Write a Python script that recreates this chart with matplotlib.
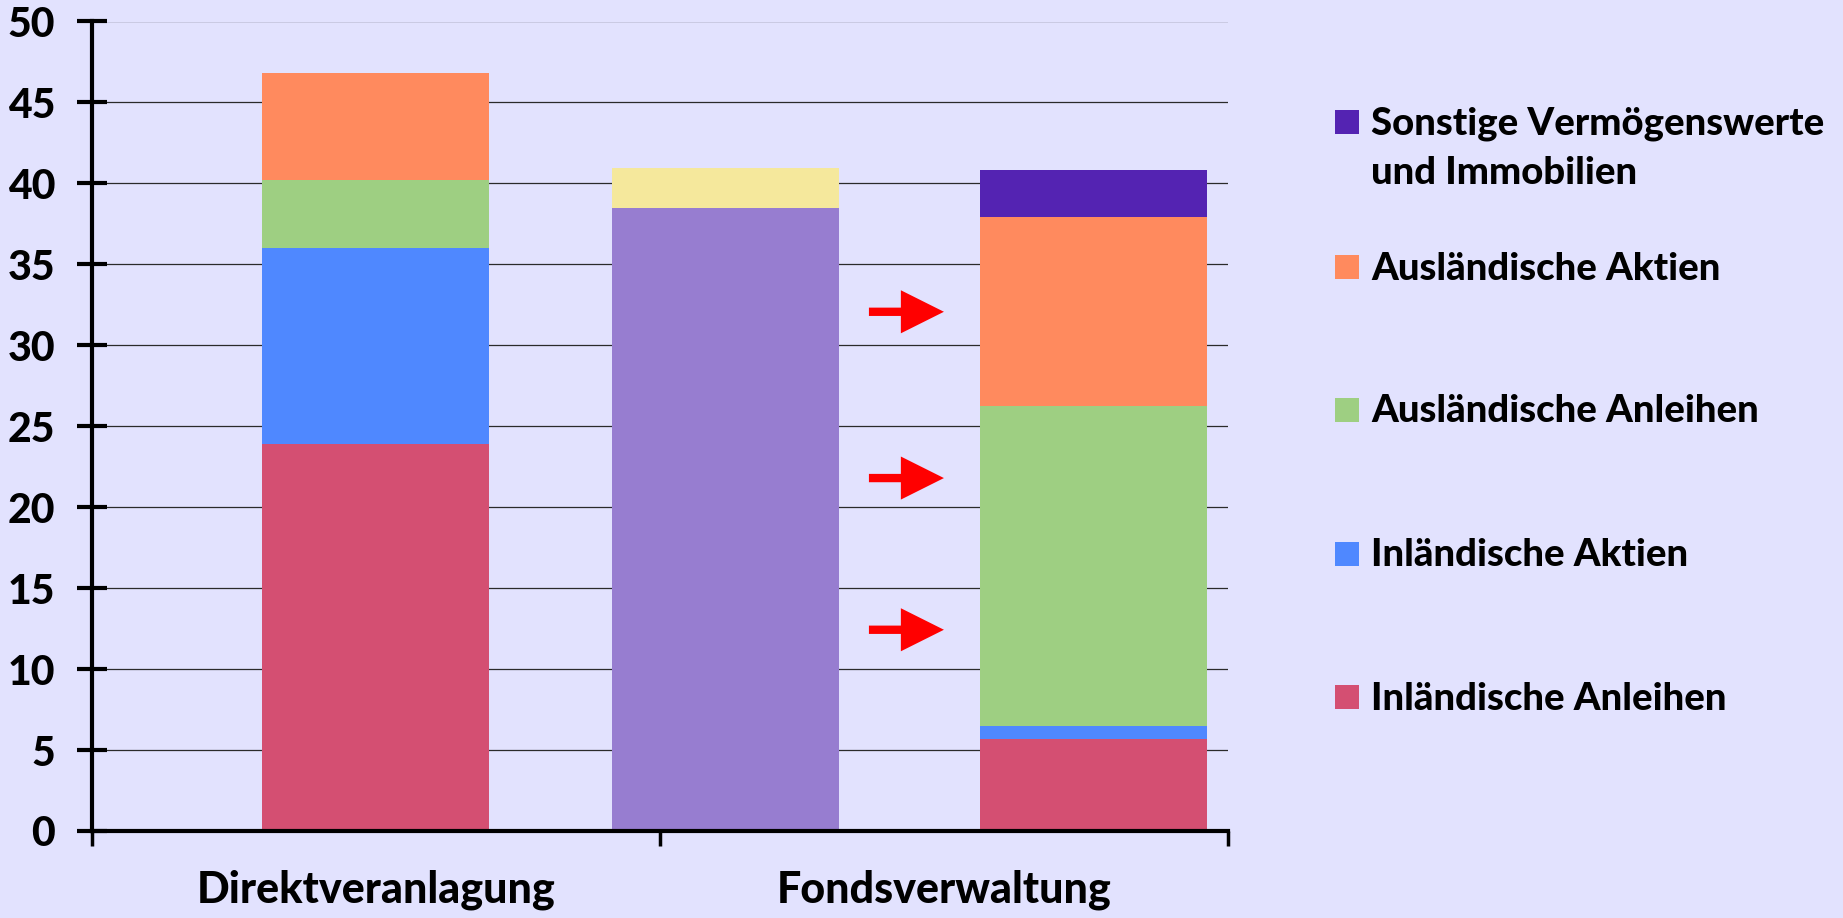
import numpy as np
import matplotlib
matplotlib.use("Agg")
import matplotlib.pyplot as plt
from matplotlib.patches import Rectangle

# Kategorien und Werte (Prozent)
categories = ["Direktveranlagung", "Fondsverwaltung"]
legend_labels = ["Sonstige Vermögenswerte\nund Immobilien", "Ausländische Aktien",
                 "Ausländische Anleihen", "Inländische Aktien", "Inländische Anleihen"]

# Balken 1: Direktveranlagung, Balken 3: Fondsverwaltung (Aufteilung)
inl_anleihen = [23.9, 5.7]
inl_aktien = [12.1, 0.77]
ausl_anleihen = [4.2, 19.75]
ausl_aktien = [6.6, 11.7]
sonstige = [0.0, 2.92]

# Balken 2: Fondsverwaltung gesamt
fonds_gesamt = [38.5]
fonds_rest = [2.47]

# Positionen der Pfeile (y-Werte)
arrow_y = [32.07, 21.8, 12.43]

bar_x = [0.5, 1.763]
bar2_x = [1.116]
bar_w = 0.40

colors = {
    "inl_anleihen": "#D44F72",
    "inl_aktien": "#4F88FF",
    "ausl_anleihen": "#9ECF82",
    "ausl_aktien": "#FF8A5E",
    "sonstige": "#5423B2",
}
bg = "#E2E2FE"

plt.rcParams['font.family'] = ['Lato', 'DejaVu Sans']
plt.rcParams['font.weight'] = 'black'

W, H = 1843, 918
fig = plt.figure(figsize=(W / 100, H / 100), dpi=100, facecolor=bg)
ax = fig.add_axes([91.7 / W, (H - 831) / H, (1228 - 91.7) / W, (831 - 21.5) / H])
ax.set_facecolor(bg)

# Gitterlinien
ax.set_axisbelow(True)
ax.yaxis.grid(True, color="#2a2a2a", linewidth=0.9)

# gestapelte Balken
series = [inl_anleihen, inl_aktien, ausl_anleihen, ausl_aktien, sonstige]
series_colors = [colors["inl_anleihen"], colors["inl_aktien"], colors["ausl_anleihen"],
                 colors["ausl_aktien"], colors["sonstige"]]
bottom = np.zeros(len(bar_x))
for vals, c in zip(series, series_colors):
    ax.bar(bar_x, vals, bar_w, bottom=bottom, color=c, linewidth=0, zorder=2)
    bottom += np.array(vals)

ax.bar(bar2_x, fonds_gesamt, bar_w, color="#977DD0", linewidth=0, zorder=2)
ax.bar(bar2_x, fonds_rest, bar_w, bottom=fonds_gesamt, color="#F5E89C", linewidth=0, zorder=2)

# rote Pfeile
for y in arrow_y:
    ax.annotate("", xy=(1.5, y), xytext=(1.368, y), xycoords="data",
                arrowprops=dict(arrowstyle="simple,head_length=31,head_width=31,tail_width=6",
                                mutation_scale=1, color="red", lw=0, shrinkA=0, shrinkB=0),
                zorder=3)

ax.set_xlim(0, 2)
ax.set_ylim(0, 50)
ax.set_yticks(np.arange(0, 51, 5))
ax.tick_params(axis="y", direction="inout", length=21.6, width=3, pad=15.5,
               labelsize=29.5, colors="black")
ax.set_xticks([0, 1, 2])
ax.set_xticklabels([])
ax.tick_params(axis="x", which="major", direction="out", length=10.8, width=2.5)
ax.set_xticks([0.5, 1.5], minor=True)
ax.set_xticklabels(categories, minor=True)
ax.tick_params(axis="x", which="minor", length=0, pad=28, labelsize=31)

for side in ["top", "right"]:
    ax.spines[side].set_visible(False)
ax.spines["left"].set_linewidth(3)
ax.spines["bottom"].set_linewidth(3)

# Legende (manuell), jede Zeile auf eigener Grundlinie
legend_colors = [colors["sonstige"], colors["ausl_aktien"], colors["ausl_anleihen"],
                 colors["inl_aktien"], colors["inl_anleihen"]]
legend_centers = [122, 267, 410, 554, 697]
for lab, c, yc in zip(legend_labels, legend_colors, legend_centers):
    fig.patches.append(Rectangle((1335 / W, (H - yc - 12) / H), 24 / W, 24 / H,
                                 transform=fig.transFigure, color=c, linewidth=0))
    for i, line in enumerate(lab.split("\n")):
        fig.text(1371 / W, (H - yc - 12.5 - 49 * i) / H, line, fontsize=27.5,
                 va="baseline", ha="left")

fig.savefig("out.png", dpi=100, facecolor=bg)
